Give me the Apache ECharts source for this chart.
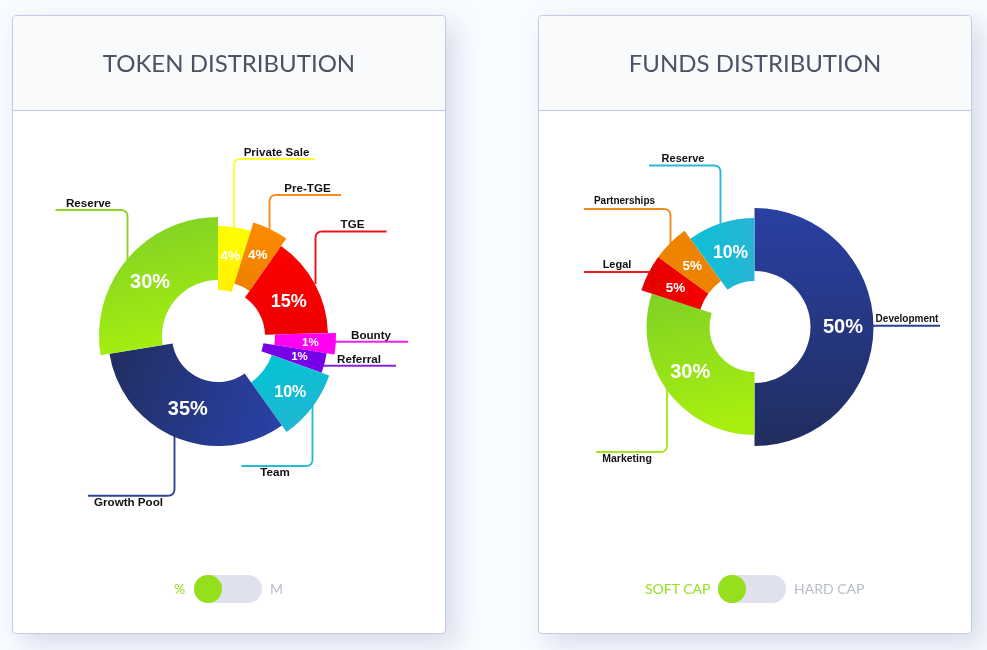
<!DOCTYPE html>
<html>
<head>
<meta charset="utf-8">
<title>Token and funds distribution</title>
<script src="https://cdn.jsdelivr.net/npm/echarts@6/dist/echarts.min.js"></script>
<style>
    html, body { margin: 0; padding: 0; width: 987px; height: 650px; overflow: hidden; background: #f8fbff; font-family: Lato, sans-serif; }
    .card { position: absolute; top: 15px; width: 432px; height: 617px; background: #fff; border: 1px solid #c4cae4; border-radius: 4px; box-shadow: 10px 10px 24px rgba(110, 125, 170, .24); box-sizing: content-box; }
    .card .head { height: 94px; background: #f9fafc; border-bottom: 1px solid #c4cae4; border-radius: 4px 4px 0 0; }
    #card1 { left: 12px; }
    #card2 { left: 538px; }
    #chart { position: absolute; left: 0; top: 0; width: 987px; height: 650px; }
    .track { position: absolute; top: 575px; width: 68px; height: 28px; border-radius: 14px; background: #dfe1ee; }
    .knob { position: absolute; left: 0; top: 0; width: 28px; height: 28px; border-radius: 50%; background: #95df1c; }
    .opt { position: absolute; top: 580px; line-height: 18px; font-size: 14px; white-space: nowrap; }
    .on { color: #95df1c; }
    .off { color: #b9bdc9; }
</style>
</head>
<body>
<div class="card" id="card1"><div class="head"></div></div>
<div class="card" id="card2"><div class="head"></div></div>
<div id="chart"></div>
<span class="opt on" style="left:174px">%</span>
<div class="track" style="left:194px"><div class="knob"></div></div>
<span class="opt off" style="left:270px">M</span>
<span class="opt on" style="left:645px">SOFT CAP</span>
<div class="track" style="left:718px"><div class="knob"></div></div>
<span class="opt off" style="left:794px">HARD CAP</span>
<script>
var titles = ["TOKEN DISTRIBUTION", "FUNDS DISTRIBUTION"];

// clockwise from 12 o'clock. printed share, and the angle each slice really takes in the picture
var tokenNames = ["Private Sale", "Pre-TGE", "TGE", "Bounty", "Referral", "Team", "Growth Pool", "Reserve"];
var tokenShares = [4, 4, 15, 1, 1, 10, 35, 30];
var tokenAngles = [17.3, 17.7, 53.5, 10.5, 10.5, 35, 116.2, 99.3];

var fundsNames = ["Development", "Marketing", "Legal", "Partnerships", "Reserve"];
var fundsShares = [50, 30, 5, 5, 10];
var fundsAngles = [180, 108, 18, 18, 36];

function grad(x2, y2, c1, c2) {
    return {type: "linear", x: 0, y: 0, x2: x2, y2: y2, colorStops: [{offset: 0, color: c1}, {offset: 1, color: c2}]};
}

var tokenStyle = {
    center: [218, 336],
    radius: [[46, 110], [55, 119], [47, 110], [57, 118], [46, 110], [57, 118], [46, 110], [56, 119]],
    font: [13.5, 13.5, 18, 11.5, 11.5, 16, 20, 20],
    nudge: [[0, 0], [0, 0], [-1, 5], [2, 1], [3, 1], [0, 2], [1, -1], [1, 5]],
    color: [
        grad(0, 1, "#ffff00", "#fff000"),
        grad(0, 1, "#ff8c00", "#ee8000"),
        grad(0, 1, "#ff0000", "#ee0000"),
        "#ff00f0",
        "#7800e6",
        grad(0.4, 1, "#00c5d5", "#1fb7d2"),
        grad(1, 0.5, "#212e60", "#2940a4"),
        grad(0.3, 1, "#7ccf27", "#a6ee10")
    ]
};
var fundsStyle = {
    center: [754.5, 327],
    radius: [[56, 119], [45, 108], [57, 119], [57, 119], [46, 109]],
    font: [20, 20, 13.5, 13.5, 17.5],
    nudge: [[-2, 0], [0, -1], [2, 3], [2, 4], [1, 3]],
    color: [
        grad(0, 1, "#2a40a3", "#212d5f"),
        grad(0.3, 1, "#7ed126", "#a8ef0f"),
        grad(1, 0, "#e30000", "#f80000"),
        "#ee8300",
        grad(1, 0, "#0cc0d5", "#28b5d6")
    ]
};

// leader line points and label spot for each name, page pixels
var tokenLeaders = [
    {color: "#ffff33", pts: [[234, 227], [234, 159], [315, 159]], at: [276.5, 153]},
    {color: "#ff8c1a", pts: [[269.5, 230], [269.5, 195], [341, 195]], at: [307.5, 189]},
    {color: "#ee1111", pts: [[315.5, 284], [315.5, 231.5], [386.5, 231.5]], at: [352.5, 225]},
    {color: "#f020f0", pts: [[335, 341.7], [408, 341.7]], at: [371, 336]},
    {color: "#8a20e8", pts: [[323, 365.7], [396, 365.7]], at: [359, 360]},
    {color: "#22bcd8", pts: [[312.5, 405], [312.5, 466], [241.5, 466]], at: [275, 472.5]},
    {color: "#2f4596", pts: [[174.5, 436], [174.5, 495.7], [88, 495.7]], at: [128.5, 502.5]},
    {color: "#8cd428", pts: [[127.5, 262], [127.5, 210], [55.5, 210]], at: [88.5, 203.5]}
];
var fundsLeaders = [
    {color: "#2c4290", pts: [[872, 325.7], [940, 325.7]], at: [907, 319], size: 10},
    {color: "#a4e81a", pts: [[667, 389], [667, 452], [596, 452]], at: [627, 459.5], size: 10.5},
    {color: "#f02020", pts: [[651, 272], [584, 272]], at: [617, 265], size: 11},
    {color: "#f08a1a", pts: [[670.5, 244], [670.5, 209], [584, 209]], at: [624.5, 201], size: 10},
    {color: "#28b8d8", pts: [[720.5, 224], [720.5, 165.5], [649, 165.5]], at: [683, 158.7], size: 11}
];

// one pie per slice, because every slice has its own inner and outer radius
function slices(names, shares, angles, st) {
    var out = [], start = 0;
    names.forEach(function (name, i) {
        out.push({
            type: "pie",
            silent: true,
            animation: false,
            clockwise: true,
            center: st.center,
            radius: st.radius[i],
            startAngle: 90 - start,
            minAngle: 0,
            data: [
                {
                    name: name,
                    value: angles[i],
                    itemStyle: {color: st.color[i]},
                    label: {
                        show: true,
                        position: "inside",
                        formatter: shares[i] + "%",
                        offset: st.nudge[i],
                        color: "#fff",
                        fontFamily: "Liberation Sans",
                        fontWeight: "bold",
                        fontSize: st.font[i]
                    }
                },
                {
                    name: "",
                    value: 360 - angles[i],
                    itemStyle: {color: "rgba(0,0,0,0)"},
                    label: {show: false},
                    labelLine: {show: false}
                }
            ]
        });
        start += angles[i];
    });
    return out;
}

// rounds the bends of a leader line
function bend(pts, r) {
    var out = [pts[0]];
    for (var i = 1; i < pts.length - 1; i++) {
        var p = pts[i], a = pts[i - 1], b = pts[i + 1];
        var la = Math.hypot(a[0] - p[0], a[1] - p[1]), lb = Math.hypot(b[0] - p[0], b[1] - p[1]);
        var s = [p[0] + (a[0] - p[0]) * r / la, p[1] + (a[1] - p[1]) * r / la];
        var e = [p[0] + (b[0] - p[0]) * r / lb, p[1] + (b[1] - p[1]) * r / lb];
        for (var t = 0; t <= 1; t += 0.125) {
            out.push([
                (1 - t) * (1 - t) * s[0] + 2 * t * (1 - t) * p[0] + t * t * e[0],
                (1 - t) * (1 - t) * s[1] + 2 * t * (1 - t) * p[1] + t * t * e[1]
            ]);
        }
    }
    out.push(pts[pts.length - 1]);
    return out;
}

function leaders(names, list) {
    var out = [];
    names.forEach(function (name, i) {
        var l = list[i];
        out.push({
            type: "polyline",
            silent: true,
            shape: {points: bend(l.pts, 7)},
            style: {stroke: l.color, lineWidth: 1.9, fill: null}
        });
        out.push({
            type: "text",
            silent: true,
            style: {
                text: name,
                x: l.at[0],
                y: l.at[1],
                align: "center",
                verticalAlign: "middle",
                fill: "#111",
                font: "bold " + (l.size || 11.6) + "px 'Liberation Sans'"
            }
        });
    });
    return out;
}

var myChart = echarts.init(document.getElementById("chart"));
var option = {
    backgroundColor: "transparent",
    animation: false,
    title: [
        {text: titles[0], left: 224, top: 47, textAlign: "center", textStyle: {fontFamily: "Lato", fontWeight: "normal", fontSize: 24, color: "#4a5264"}},
        {text: titles[1], left: 750, top: 47, textAlign: "center", textStyle: {fontFamily: "Lato", fontWeight: "normal", fontSize: 24, color: "#4a5264"}}
    ],
    graphic: {elements: leaders(tokenNames, tokenLeaders).concat(leaders(fundsNames, fundsLeaders))},
    series: slices(tokenNames, tokenShares, tokenAngles, tokenStyle).concat(slices(fundsNames, fundsShares, fundsAngles, fundsStyle))
};
myChart.setOption(option);
</script>
</body>
</html>
